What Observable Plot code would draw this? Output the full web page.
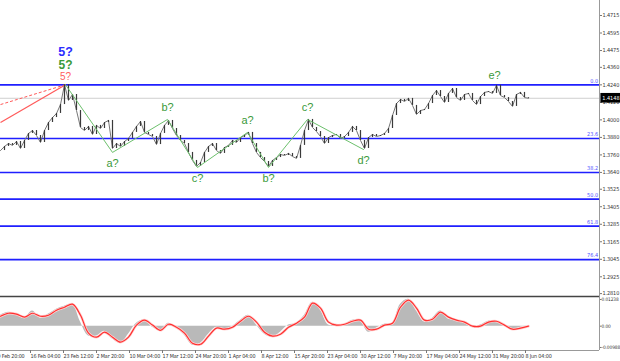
<!DOCTYPE html>
<html><head><meta charset="utf-8">
<script src="https://cdn.jsdelivr.net/npm/d3@7"></script>
<script src="https://cdn.jsdelivr.net/npm/@observablehq/plot@0.6"></script>
<style>
html,body{margin:0;padding:0;background:#fff;overflow:hidden;}
#chart{position:relative;width:620px;height:361px;background:#fff;}
#chart svg{position:absolute;left:0;overflow:visible;}
#chart g[aria-label="x-axis tick label"] text{letter-spacing:-0.15px;}
#chart g[aria-label="y-axis tick label"] text{letter-spacing:-0.1px;}
</style></head><body><div id="chart"></div>
<script>
// ---- data ----
const closes = [1.3790,1.3818,1.3838,1.3825,1.3852,1.3804,1.3859,1.3907,1.3927,1.3893,
1.3845,1.3927,1.3982,1.4016,1.4044,1.4105,1.4241,1.4133,1.4174,1.4064,
1.3948,1.3927,1.3955,1.3900,1.3962,1.3941,1.3982,1.3996,1.3804,1.3838,
1.3818,1.3852,1.3873,1.3914,1.3955,1.3989,1.3914,1.3900,1.3886,1.3831,
1.3907,1.3962,1.3996,1.3941,1.3893,1.3859,1.3838,1.3777,1.3722,1.3681,
1.3708,1.3777,1.3818,1.3838,1.3790,1.3770,1.3811,1.3825,1.3859,1.3845,
1.3879,1.3893,1.3914,1.3838,1.3777,1.3742,1.3715,1.3681,1.3722,1.3742,
1.3763,1.3756,1.3770,1.3749,1.3736,1.3825,1.3927,1.4003,1.3948,1.3920,
1.3886,1.3838,1.3879,1.3893,1.3900,1.3873,1.3886,1.3914,1.3955,1.3927,
1.3859,1.3804,1.3879,1.3900,1.3886,1.3893,1.3907,1.3941,1.4030,1.4112,
1.4140,1.4126,1.4147,1.4099,1.4037,1.4064,1.4071,1.4112,1.4167,1.4201,
1.4160,1.4119,1.4181,1.4215,1.4153,1.4133,1.4174,1.4181,1.4133,1.4105,
1.4160,1.4188,1.4194,1.4181,1.4237,1.4167,1.4153,1.4126,1.4092,1.4174,
1.4188,1.4153,1.4148];
const lastPrice = 1.4148;

const priceTicks = [1.4715,1.4595,1.4475,1.4360,1.4240,1.4120,1.4000,1.3880,1.3760,1.3640,1.3525,1.3405,1.3285,1.3165,1.3045,1.2925,1.2810];
const fibLabels = ["0.0","23.6","38.2","50.0","61.8","76.4"];
const fibPrices = [1.4240,1.3872,1.3640,1.3457,1.3272,1.3043];

const waveIdx    = [16.25, 28, 41.75, 49.25, 61.75, 67, 76.75, 90.75];
const wavePrice  = [1.4241,1.3777,1.4003,1.3674,1.3914,1.3674,1.4003,1.3797];
const waveLabels = ["", "a?","b?","c?","a?","b?","c?","d?"];
const waveSide   = ["up","down","up","down","up","down","up","down"];
const eLabel = {idx:123.5, price:1.4237, text:"e?"};

const trendStartPrice = [1.3982, 1.4105]; // solid, dashed red lines to the top
const topLabels = ["5?","5?","5?"];
const topColors = ["#2b2bff","#3a9a3a","#ff6060"];

const histValues = [0.0051,0.0065,0.0051,0.0037,0.0070,0.0037,0.0056,0.0079,0.0093,0.0102,
0.0019,-0.0046,-0.0046,-0.0023,-0.0060,-0.0079,-0.0037,0.0014,0.0028,-0.0005,
-0.0019,0.0014,-0.0009,-0.0042,-0.0088,-0.0079,-0.0037,-0.0005,-0.0019,0.0000,
0.0028,0.0051,0.0005,-0.0037,-0.0051,-0.0028,0.0005,0.0014,0.0051,0.0111,
0.0074,0.0005,0.0005,0.0009,0.0028,0.0023,-0.0028,-0.0009,0.0009,0.0014,
0.0102,0.0125,0.0070,0.0019,0.0037,0.0070,0.0032,0.0028,0.0014,-0.0005,
0.0005,0.0023,0.0019,0.0000,-0.0019,-0.0005,0.0000];
const signalValues = [0.0046,0.0060,0.0056,0.0042,0.0060,0.0046,0.0051,0.0074,0.0088,0.0102,
0.0051,-0.0032,-0.0051,-0.0028,-0.0051,-0.0074,-0.0051,0.0005,0.0028,0.0005,
-0.0019,0.0009,-0.0005,-0.0032,-0.0079,-0.0084,-0.0046,-0.0009,-0.0014,-0.0005,
0.0023,0.0046,0.0019,-0.0028,-0.0046,-0.0037,-0.0005,0.0014,0.0042,0.0107,
0.0084,0.0019,0.0005,0.0009,0.0023,0.0028,-0.0014,-0.0014,0.0005,0.0014,
0.0088,0.0121,0.0084,0.0028,0.0032,0.0065,0.0042,0.0028,0.0019,0.0000,
0.0000,0.0019,0.0023,0.0005,-0.0014,-0.0009,0.0000];
const indTicks = [0.01238, 0, -0.00988];

const xTickIdx = [-1,7.25,15.5,23.75,32,40.25,48.5,56.75,65,73.25,81.5,89.75,98,106.25,114.5,122.75,131];
const xTickLabels = ["9 Feb 20:00","16 Feb 04:00","23 Feb 12:00","2 Mar 20:00","10 Mar 04:00","17 Mar 12:00","24 Mar 20:00","1 Apr 04:00","8 Apr 12:00","15 Apr 20:00","23 Apr 04:00","30 Apr 12:00","7 May 20:00","17 May 04:00","24 May 12:00","31 May 20:00","8 Jun 04:00"];

// ---- build ----
const font = "Liberation Sans, Arial, sans-serif";
const narrow = "DejaVu Sans Condensed, Liberation Sans Narrow, Arial, sans-serif";
const xDomain = [0, 149.75];
const bars = closes.map((c,i)=>({i, o: i ? closes[i-1] : c, c}));
const wave = waveIdx.map((x,i)=>({x, y: wavePrice[i], t: waveLabels[i], side: waveSide[i]}));
const peak = wave[0];
const trend = trendStartPrice.map((p,i)=>({x1:0, y1:p, x2:peak.x, y2:peak.y, dash: i===1}));
const xLabelMap = new Map(xTickIdx.map((d,i)=>[d, xTickLabels[i]]));
const green = "#3a9a3a";

const pricePlot = Plot.plot({
  width: 620, height: 296, marginTop: 0, marginLeft: 0, marginBottom: 0, marginRight: 21,
  x: {domain: xDomain, axis: null},
  y: {domain: [1.27901, 1.48178], axis: null},
  style: {background: "transparent", fontFamily: font},
  marks: [
    Plot.ruleY([lastPrice], {stroke: "#cfcfcf", strokeWidth: 1}),
    Plot.ruleY(fibPrices, {stroke: "#1f1fff", strokeWidth: 1.6}),
    Plot.text(fibPrices, {x: 149.4, y: d=>d, text: (d,i)=>fibLabels[i], textAnchor: "end", dy: -4, fill: "#5050ff", fontSize: 5.5, fontFamily: narrow}),
    Plot.link(trend.filter(d=>!d.dash), {x1:"x1", y1:"y1", x2:"x2", y2:"y2", stroke: "#ff5a5a", strokeWidth: 1.2}),
    Plot.link(trend.filter(d=>d.dash), {x1:"x1", y1:"y1", x2:"x2", y2:"y2", stroke: "#ff5a5a", strokeWidth: 1, strokeDasharray: "3,2"}),
    Plot.line(closes, {x: (d,i)=>i, y: d=>d, stroke: "#777", strokeWidth: 1}),
    Plot.ruleX(bars, {x: "i", y1: "o", y2: "c", stroke: "#3a3a3a", strokeWidth: 1.2}),
    Plot.line(wave, {x: "x", y: "y", stroke: "#6cc06c", strokeWidth: 1}),
    Plot.text(wave.filter(d=>d.t && d.side==="up"), {x: "x", y: "y", text: "t", dy: -12, fill: green, fontSize: 11}),
    Plot.text(wave.filter(d=>d.t && d.side==="down"), {x: "x", y: "y", text: "t", dy: 11, fill: green, fontSize: 11}),
    Plot.text([eLabel], {x: "idx", y: "price", text: "text", dy: -10, fill: green, fontSize: 11}),
    Plot.text([topLabels[0]], {x: peak.x, y: peak.y, text: d=>d, dy: -33, fill: topColors[0], fontSize: 12.5, fontWeight: "bold"}),
    Plot.text([topLabels[1]], {x: peak.x, y: peak.y, text: d=>d, dy: -20, fill: topColors[1], fontSize: 12, fontWeight: "bold"}),
    Plot.text([topLabels[2]], {x: peak.x, y: peak.y, text: d=>d, dy: -8, fill: topColors[2], fontSize: 10}),
    Plot.ruleX([149.75], {stroke: "#999", strokeWidth: 1}),
    Plot.axisY(priceTicks, {anchor: "right", tickFormat: d=>d.toFixed(4), tickSize: 2, tickPadding: 1, fontSize: 5.5, fontFamily: narrow, stroke: "#777", fill: "#333"}),
    Plot.rect([lastPrice], {x1: 150.1, x2: 155.1, y1: d=>d-0.0033, y2: d=>d+0.0033, fill: "#000"}),
    Plot.text([lastPrice], {x: 152.6, y: d=>d, text: d=>d.toFixed(4), fill: "#fff", fontSize: 5.5, fontFamily: narrow})
  ]
});
pricePlot.style.top = "0px";

const indPlot = Plot.plot({
  width: 620, height: 65, marginTop: 0, marginLeft: 0, marginBottom: 11, marginRight: 21,
  x: {domain: xDomain, axis: null},
  y: {domain: [-0.01128, 0.01377], axis: null},
  style: {background: "transparent", fontFamily: font},
  marks: [
    Plot.areaY(histValues, {x: (d,i)=>i*2, y: d=>d, fill: "#b9b9b9", curve: "catmull-rom"}),
    Plot.line(signalValues, {x: (d,i)=>i*2, y: d=>d, stroke: "#ffd0d0", strokeWidth: 2.6, curve: "catmull-rom"}),
    Plot.line(signalValues, {x: (d,i)=>i*2, y: d=>d, stroke: "#ff3030", strokeWidth: 1.2, curve: "catmull-rom"}),
    Plot.ruleY([0.01377], {stroke: "#444", strokeWidth: 1.5}),
    Plot.ruleY([-0.01128], {stroke: "#999", strokeWidth: 1}),
    Plot.ruleX([149.75], {stroke: "#999", strokeWidth: 1}),
    Plot.axisY(indTicks, {anchor: "right", tickFormat: d=> d===0 ? "0.00" : d.toFixed(5), tickSize: 1.5, tickPadding: 0.5, fontSize: 4.8, fontFamily: narrow, stroke: "#777", fill: "#333"}),
    Plot.axisX(xTickIdx, {anchor: "bottom", tickFormat: d=>xLabelMap.get(d), tickSize: 3, tickPadding: 1, textAnchor: "start", dx: 1, fontSize: 5.4, fontFamily: narrow, stroke: "#777", fill: "#333"})
  ]
});
indPlot.style.top = "296px";

const root = document.getElementById("chart");
root.appendChild(pricePlot);
root.appendChild(indPlot);
</script>
</body></html>
